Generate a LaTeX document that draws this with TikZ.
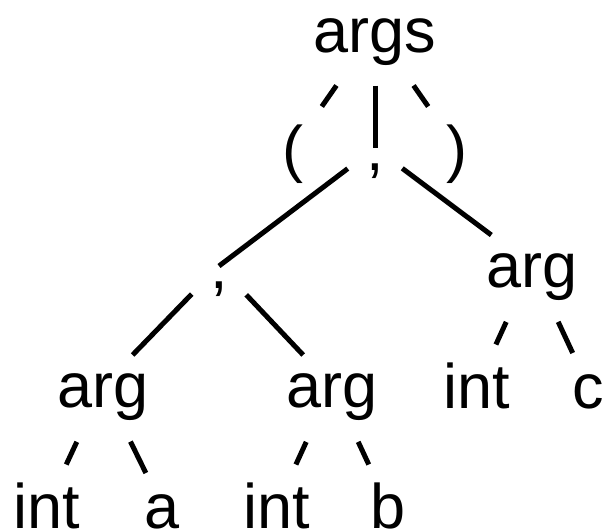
\documentclass[tikz,border=0pt]{standalone}
\usepackage{fontspec}
\setmainfont{Liberation Sans}

\begin{document}
\begin{tikzpicture}[x = 1pt, y = -1pt, line width = 5pt,
  every node/.style = {anchor = base, text height = 44pt, text depth = 0pt,
    inner xsep = 16pt, inner ysep = 17pt,
    font = \fontsize{63}{70}\selectfont},
  root/.style = {inner ysep = 31pt},
  branch/.style = {inner ysep = 6pt},
  short/.style = {inner ysep = 8.5pt}]
  \useasboundingbox (0, 0) rectangle (607, 530);

  \node[root] (args) at (375, 52) {args};

  \node (lp) at (293, 170) {(};
  \node (cm) at (375, 170) {,};
  \node (rp) at (457, 170) {)};

  \node (cmL) at (219, 288) {,};
  \node[branch] (argR) at (532, 287.5) {arg};

  \node[branch] (arg1) at (103, 407.5) {arg};
  \node[branch] (arg2) at (332, 407.5) {arg};
  \node (intR) at (477, 408) {int};
  \node[short] (c) at (588, 408) {c};

  \node (int1) at (47, 528) {int};
  \node[short] (a) at (162, 528) {a};
  \node (int2) at (277, 528) {int};
  \node (b) at (388, 528) {b};

  % edges into a comma stop at its centre
  \draw (args) -- (cm.center);
  \draw (cm) -- (cmL.center);

  \foreach \p/\c in {args/lp, args/rp, cm/argR, cmL/arg1, cmL/arg2}{
    \draw (\p) -- (\c);
  }

  % the arg nodes hang their children lower
  \foreach \p/\c in {arg1/int1, arg1/a, arg2/int2, arg2/b, argR/intR, argR/c}{
    \draw[shorten <= 28.5pt] (\p) -- (\c);
  }
\end{tikzpicture}
\end{document}
